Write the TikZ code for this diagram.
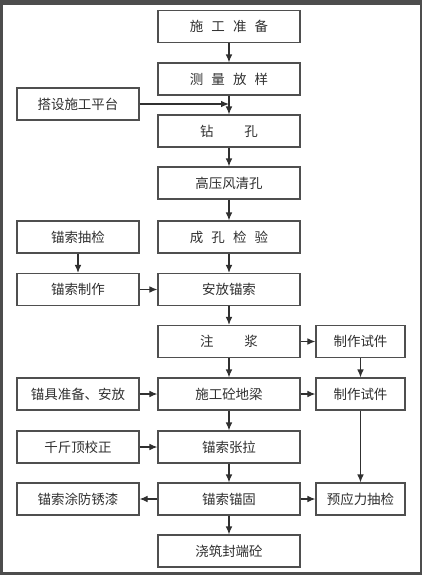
\documentclass[tikz,border=0pt]{standalone}
\usepackage{fontspec}
\newfontfamily\cjk{Noto Sans CJK SC}
\usetikzlibrary{arrows.meta}
\definecolor{frame}{HTML}{4D4D4D}
\definecolor{ink}{HTML}{303030}

\newcommand{\gap}{\hspace{0.6em}}

\tikzset{
  box/.style={draw=ink!85, line width=1pt, font=\cjk\fontsize{11.5}{12}\selectfont, text=ink, inner sep=0pt},
  mainbox/.style={box, minimum width=4.26cm, minimum height=0.96cm},
  sidebox/.style={box, minimum width=3.66cm, minimum height=0.96cm},
  testbox/.style={box, minimum width=2.67cm, minimum height=0.96cm},
  link/.style={-{Latex[length=0.24cm, width=0.2cm]}, line width=1pt, draw=ink}
}

\begin{document}
\begin{tikzpicture}[x=0.03cm, y=-0.03cm]
      % background and page frame
      \fill[frame] (0,0) rectangle (422,575);
      \fill[white] (3,5) rectangle (420,572);
      \useasboundingbox (0,0) rectangle (422,575);

      % main column
      \node[mainbox] (prep)   at (229,26.5) {施\gap 工\gap 准\gap 备};
      \node[mainbox] (survey) at (229,79)   {测\gap 量\gap 放\gap 样};
      \node[mainbox] (drill)  at (229,131)  {钻\hspace{2.3em}孔};
      \node[mainbox] (blow)   at (229,183)  {高压风清孔};
      \node[mainbox] (check)  at (229,237)  {成\gap 孔\gap 检\gap 验};
      \node[mainbox] (place)  at (229,289.5) {安放锚索};
      \node[mainbox] (grout)  at (229,341.5) {注\hspace{2.3em}浆};
      \node[mainbox] (beam)   at (229,394)  {施工砼地梁};
      \node[mainbox] (tension) at (229,447) {锚索张拉};
      \node[mainbox] (lock)   at (229,499)  {锚索锚固};
      \node[mainbox] (seal)   at (229,551)  {浇筑封端砼};

      % left column
      \node[sidebox] (platform) at (78,104)  {搭设施工平台};
      \node[sidebox] (sample)   at (78,237)  {锚索抽检};
      \node[sidebox] (make)     at (78,289.5) {锚索制作};
      \node[sidebox] (anchor)   at (78,394)  {锚具准备、安放};
      \node[sidebox] (jack)     at (78,447)  {千斤顶校正};
      \node[sidebox] (paint)    at (78,499)  {锚索涂防锈漆};

      % right column
      \node[testbox] (spec1)  at (360.5,341.5) {制作试件};
      \node[testbox] (spec2)  at (360.5,394)   {制作试件};
      \node[testbox] (stress) at (360.5,499)   {预应力抽检};

      % main flow
      \foreach \a/\b in {prep/survey, survey/drill, drill/blow, blow/check, check/place,
                         place/grout, grout/beam, beam/tension, tension/lock, lock/seal}
        \draw[link] (\a) -- (\b);

      % side inputs
      \draw[link] (platform.east) -- (platform.east -| survey.south);
      \draw[link] (sample) -- (make);
      \draw[link] (make) -- (place);
      \draw[link] (anchor) -- (beam);
      \draw[link] (jack) -- (tension);
      \draw[link] (lock) -- (paint);

      % test specimens
      \draw[link] (grout) -- (spec1);
      \draw[link] (beam) -- (spec2);
      \draw[link] (spec1) -- (spec2);
      \draw[link] (spec2) -- (stress);
      \draw[link] (lock) -- (stress);
\end{tikzpicture}
\end{document}
